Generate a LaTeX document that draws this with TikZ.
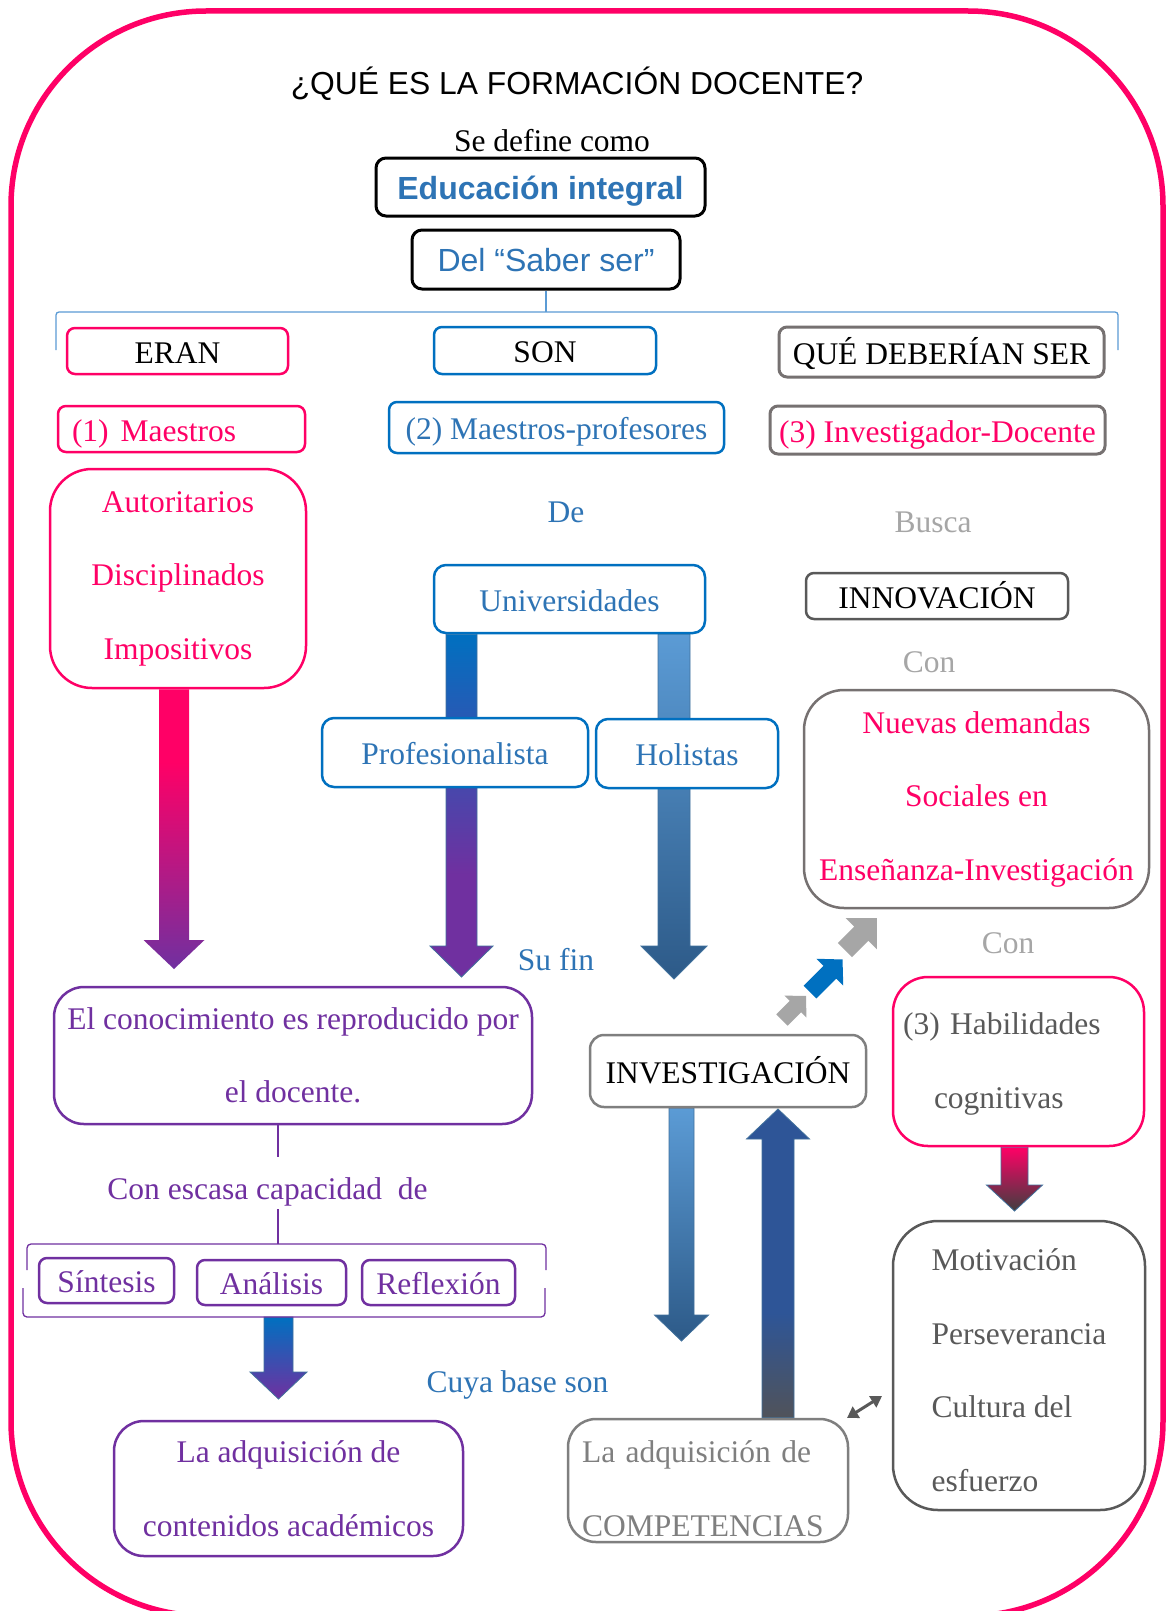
\documentclass[tikz,border=0pt]{standalone}
\usepackage{fontspec}
\setmainfont{Liberation Serif}
\newfontfamily\arialf{Liberation Sans}
\usetikzlibrary{calc,arrows.meta}

\definecolor{rosa}{HTML}{FF0066}
\definecolor{azul}{HTML}{0070C0}
\definecolor{azultxt}{HTML}{2E74B5}
\definecolor{morado}{HTML}{7030A0}
\definecolor{grisborde}{HTML}{767171}
\definecolor{grisclaro}{HTML}{A6A6A6}
\definecolor{grisoscuro}{HTML}{595959}
\definecolor{grismedio}{HTML}{7F7F7F}
\definecolor{celeste}{HTML}{5B9BD5}
\definecolor{marino}{HTML}{2D5A88}
\definecolor{marinoosc}{HTML}{2E5597}
\definecolor{grisflecha}{HTML}{50535A}
\definecolor{contorno}{HTML}{41719C}
\definecolor{grafito}{HTML}{3F3F3F}

\pgfdeclarelayer{fondo}
\pgfdeclarelayer{flechas}
\pgfsetlayers{fondo,flechas,main}

\pgfdeclareverticalshading{rosamorado}{100bp}{color(0bp)=(morado); color(25bp)=(morado); color(62bp)=(rosa); color(100bp)=(rosa)}
\pgfdeclareverticalshading{azulmorado}{100bp}{color(0bp)=(morado); color(25bp)=(morado); color(40bp)=(morado); color(75bp)=(azul); color(100bp)=(azul)}
\pgfdeclareverticalshading{marinogris}{100bp}{color(0bp)=(grisflecha); color(25bp)=(grisflecha); color(42bp)=(marinoosc); color(100bp)=(marinoosc)}

% vertical block arrows: #1 start, #2 tip, #3 half shaft, #4 half head, #5 head length, #6 style
\newcommand\downblock[6]{%
  \path[#6] let \p1=#1, \p2=#2 in
    (\x2-#3,\y1) -- (\x2+#3,\y1) -- (\x2+#3,\y2+#5) -- (\x2+#4,\y2+#5)
    -- (\x2,\y2) -- (\x2-#4,\y2+#5) -- (\x2-#3,\y2+#5) -- cycle;}
\newcommand\upblock[6]{%
  \path[#6] let \p1=#1, \p2=#2 in
    (\x2-#3,\y1) -- (\x2+#3,\y1) -- (\x2+#3,\y2-#5) -- (\x2+#4,\y2-#5)
    -- (\x2,\y2) -- (\x2-#4,\y2-#5) -- (\x2-#3,\y2-#5) -- cycle;}
% diagonal block arrow pointing up-right: #1 tail, #2 length, #3 half shaft, #4 half head, #5 head length, #6 colour
\newcommand\diagblock[6]{%
  \begin{scope}[shift={#1}, rotate=45]
    \fill[#6] (0pt,-#3) -- (#2-#5,-#3) -- (#2-#5,-#4) -- (#2,0pt)
      -- (#2-#5,#4) -- (#2-#5,#3) -- (0pt,#3) -- cycle;
  \end{scope}}

\begin{document}
\begin{tikzpicture}[x=1pt, y=-1pt,
  lbl/.style={font=\fontsize{31.5}{37}\selectfont, inner sep=0pt, text height=30pt, text depth=6pt},
  box/.style={lbl, draw, fill=white, line width=2.5pt, align=center},
  mbox/.style={draw, fill=white, line width=2.5pt, inner sep=0pt, align=center,
    font=\fontsize{31.5}{73.5}\selectfont},
  llave/.style={line width=1.3pt, rounded corners=4pt},
  contornoflecha/.style={draw=contorno, line width=0.8pt}]

\begin{pgfonlayer}{fondo}
  \fill[white] (0,0) rectangle (1168,1611);
\end{pgfonlayer}
\useasboundingbox (0,0) rectangle (1168,1611);

% outer frame
\draw[rosa, line width=5.5pt, rounded corners=195pt] (11,11) rectangle (1163,1616);

% heading
\node[lbl, font=\arialf\fontsize{31.8}{38}\selectfont] (titulo) at (577,83) {¿QUÉ ES LA FORMACIÓN DOCENTE?};
\node[lbl] (define) at (552,139.5) {Se define como};
\node[box, draw=black, line width=3pt, rounded corners=10pt, minimum width=329pt, minimum height=58pt,
  text=azultxt, font=\arialf\bfseries\fontsize{32}{38}\selectfont] (edu) at (540.5,187) {Educación integral};
\node[box, draw=black, line width=3pt, rounded corners=10pt, minimum width=268pt, minimum height=59pt,
  text=azultxt, font=\arialf\fontsize{32}{38}\selectfont] (saber) at (546,259.5) {Del “Saber ser”};

% top bracket
\coordinate (llaveC) at (546,312);
\draw[celeste, line width=1.3pt] (saber.south) -- (llaveC);
\draw[celeste, line width=1.3pt, rounded corners=3pt] (56,350) -- (56,312) -- (1118,312) -- (1118,350);

% three columns
\node[box, draw=rosa, rounded corners=8pt, minimum width=221pt, minimum height=46pt] (eran) at (177.5,351) {ERAN};
\node[box, draw=azul, rounded corners=8pt, minimum width=222pt, minimum height=47pt] (son) at (545,350.5) {SON};
\node[box, draw=grisborde, line width=3pt, rounded corners=8pt, minimum width=325pt, minimum height=50pt] (deberian) at (941.5,352) {QUÉ DEBERÍAN SER};

\node[box, draw=rosa, text=rosa, rounded corners=8pt, minimum width=247pt, minimum height=46pt,
  text width=219pt, align=left, inner xsep=14pt] (m1) at (181.5,429) {(1)\hspace{12pt}Maestros};
\node[box, draw=azul, text=azultxt, rounded corners=8pt, minimum width=335pt, minimum height=51pt] (m2) at (556.5,427.5) {(2) Maestros-profesores};
\node[box, draw=grisborde, line width=3pt, text=rosa, rounded corners=8pt, minimum width=335pt, minimum height=48pt] (m3) at (937.5,430) {(3) Investigador-Docente};

% left column
\node[mbox, draw=rosa, text=rosa, rounded corners=42pt, minimum width=256pt, minimum height=219pt] (auto) at (178,578.5) {Autoritarios\\Disciplinados\\Impositivos};
\node[mbox, draw=morado, text=morado, rounded corners=30pt, minimum width=478pt, minimum height=137pt] (conoc) at (293,1055.5) {El conocimiento es reproducido por\\el docente.};
\node[lbl, text=morado] (escasa) at (267.5,1187) {Con escasa capacidad\ \ de};
\coordinate (lineaA) at (278,1157);
\coordinate (lineaB) at (278,1209);
\coordinate (llaveSup) at (278,1244);
\coordinate (llaveInf) at (278,1317);
\draw[morado, line width=1.2pt] (conoc.south -| lineaA) -- (lineaA);
\draw[morado, line width=1.2pt] (lineaB) -- (llaveSup);
\draw[morado, llave] (27,1270) -- (27,1244) -- (546,1244) -- (546,1270);
\draw[morado, llave] (23,1288) -- (23,1317) -- (545,1317) -- (545,1288);
\node[box, draw=morado, text=morado, rounded corners=8pt, minimum width=135pt, minimum height=45pt] (sintesis) at (106.5,1280.5) {Síntesis};
\node[box, draw=morado, text=morado, rounded corners=8pt, minimum width=149pt, minimum height=45pt] (analisis) at (271.5,1282.5) {Análisis};
\node[box, draw=morado, text=morado, rounded corners=8pt, minimum width=153pt, minimum height=45pt] (reflexion) at (438.5,1282.5) {Reflexión};
\node[mbox, draw=morado, text=morado, rounded corners=30pt, minimum width=349pt, minimum height=135pt] (contenidos) at (288.5,1488.5) {La adquisición de\\contenidos académicos};

% middle column
\node[lbl, text=azultxt] (de) at (566,510.5) {De};
\node[box, draw=azul, text=azultxt, rounded corners=12pt, minimum width=271pt, minimum height=68pt] (univ) at (569.5,599) {Universidades};
\node[box, draw=azul, text=azultxt, rounded corners=12pt, minimum width=266pt, minimum height=69pt] (prof) at (455,752.5) {Profesionalista};
\node[box, draw=azul, text=azultxt, rounded corners=12pt, minimum width=182pt, minimum height=69pt] (holi) at (687,753.5) {Holistas};
\node[lbl, text=azultxt] (sufin) at (556,958.5) {Su fin};
\node[box, draw=grismedio, rounded corners=14pt, minimum width=276pt, minimum height=72pt] (invest) at (728,1071) {INVESTIGACIÓN};
\node[lbl, text=azultxt] (cuya) at (517.5,1380.5) {Cuya base son};
\node[mbox, draw=grismedio, text=grismedio, rounded corners=28pt, minimum width=280pt, minimum height=123pt,
  text width=252pt, align=left, inner xsep=14pt] (comp) at (708,1480.5) {\rule{0pt}{38pt}La adquisición de\\COMPETENCIAS};

% right column
\node[lbl, text=grisclaro] (busca) at (933,520.5) {Busca};
\node[box, draw=grisoscuro, rounded corners=8pt, minimum width=262pt, minimum height=46pt] (innov) at (937,596) {INNOVACIÓN};
\node[lbl, text=grisclaro] (con1) at (929,660.5) {Con};
\node[mbox, draw=grisborde, text=rosa, rounded corners=40pt, minimum width=345pt, minimum height=218pt] (nuevas) at (976.5,799) {Nuevas demandas\\Sociales en\\Enseñanza-Investigación};
\node[lbl, text=grisclaro] (con2) at (1008,941.5) {Con};
\node[mbox, draw=rosa, text=grisoscuro, rounded corners=35pt, minimum width=251pt, minimum height=169pt,
  text width=231pt, align=left, inner xsep=10pt] (habil) at (1018.5,1061.5) {\rule{0pt}{27pt}(3) Habilidades\\\hspace*{31pt}cognitivas};
\node[mbox, draw=grisoscuro, text=grisoscuro, rounded corners=45pt, minimum width=252pt, minimum height=289pt, align=left] (motiv) at (1019,1365.5) {\rule{0pt}{31pt}Motivación\\Perseverancia\\Cultura del\\esfuerzo};

% arrow tips and free ends
\coordinate (puntaAuto) at (174,969);
\coordinate (puntaProf) at (461.5,977);
\coordinate (puntaHoli) at (674,979);
\coordinate (puntaSint) at (278.5,1399);
\coordinate (puntaInv) at (681.5,1341);
\coordinate (puntaComp) at (778,1109);
\coordinate (puntaHab) at (1014.5,1211);
\coordinate (diagA) at (782,1020);
\coordinate (diagB) at (810,992);
\coordinate (diagC) at (845,950);
\coordinate (dobleA) at (847,1418);
\coordinate (dobleB) at (882,1396);

\begin{pgfonlayer}{flechas}
  \downblock{(auto.south)}{(puntaAuto)}{15pt}{30.5pt}{29pt}{shade, shading=rosamorado}
  \downblock{(univ.south)}{(puntaProf)}{15.5pt}{31.5pt}{31pt}{shade, shading=azulmorado, contornoflecha}
  \downblock{(univ.south)}{(puntaHoli)}{16pt}{33pt}{33pt}{top color=celeste, bottom color=marino, contornoflecha}
  \downblock{(llaveInf)}{(puntaSint)}{14.5pt}{28.5pt}{27pt}{top color=azul, bottom color=morado, contornoflecha}
  \downblock{(invest.south)}{(puntaInv)}{12.5pt}{27pt}{26pt}{top color=celeste, bottom color=marino, contornoflecha}
  \upblock{(comp.north)}{(puntaComp)}{16pt}{31.5pt}{30pt}{shade, shading=marinogris, contornoflecha}
  \downblock{(habil.south)}{(puntaHab)}{13.5pt}{28pt}{26pt}{top color=rosa, bottom color=grafito, contornoflecha}
\end{pgfonlayer}

\diagblock{(diagA)}{34pt}{8pt}{15.5pt}{15pt}{grisclaro}
\diagblock{(diagB)}{46pt}{9pt}{19pt}{18pt}{azul}
\diagblock{(diagC)}{45pt}{10pt}{22pt}{22pt}{grisclaro}

\draw[grisoscuro, line width=3pt, {Triangle[length=11pt,width=13pt]}-{Triangle[length=11pt,width=13pt]}] (dobleA) -- (dobleB);

\end{tikzpicture}
\end{document}
